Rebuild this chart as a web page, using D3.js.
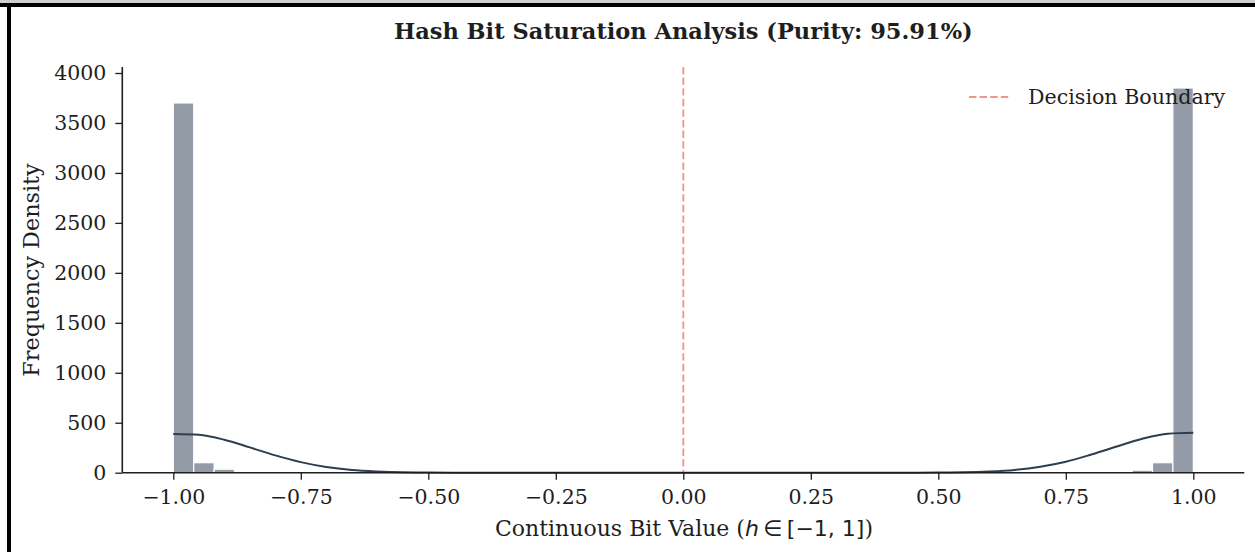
<!DOCTYPE html>
<html lang="en">
<head>
    <meta charset="UTF-8">
    <title>Hash Bit Saturation Analysis</title>
    <style>
        body { margin: 0; background: #fff; }
        svg text { font-family: "DejaVu Serif", serif; fill: #1e1e1e; }
    </style>
</head>
<body>
    <svg id="chart"></svg>

    <script src="https://d3js.org/d3.v7.min.js"></script>
    <script>
        // Histogram: 50 bins of width 0.04 starting at -1
        var binStart = -1, binWidth = 0.04;
        var counts = [
            3700, 100, 35, 0, 0, 0, 0, 0, 0, 0,
            0, 0, 0, 0, 0, 0, 0, 0, 0, 0,
            0, 0, 0, 0, 0, 0, 0, 0, 0, 0,
            0, 0, 0, 0, 0, 0, 0, 0, 0, 0,
            0, 0, 0, 0, 0, 0, 0, 25, 100, 3850
        ];

        // KDE curve
        var kdeX = [-1, -0.95, -0.9, -0.85, -0.8, -0.75, -0.7, -0.65, -0.6, -0.55, -0.5, -0.45, -0.4,
                    0, 0.4, 0.45, 0.5, 0.55, 0.6, 0.65, 0.7, 0.75, 0.8, 0.85, 0.9, 0.95, 1];
        var kdeY = [388, 379, 330, 253, 173, 106, 57, 27, 12, 4, 1.5, 0.4, 0,
                    0, 0, 0.5, 1.5, 4, 12, 28, 60, 110, 182, 262, 340, 390, 399];

        var xTicks = [-1, -0.75, -0.5, -0.25, 0, 0.25, 0.5, 0.75, 1];
        var yTicks = [0, 500, 1000, 1500, 2000, 2500, 3000, 3500, 4000];

        var width = 1255, height = 552;

        var svg = d3.select("#chart")
            .attr("width", width)
            .attr("height", height);

        // frame around the figure
        svg.append("rect").attr("x", 0).attr("y", 0).attr("width", width).attr("height", 3).attr("fill", "#cfcfcf");
        svg.append("rect").attr("x", 0).attr("y", 3).attr("width", width).attr("height", 4).attr("fill", "#000");
        svg.append("rect").attr("x", 7).attr("y", 3).attr("width", 4).attr("height", height).attr("fill", "#000");

        var x = d3.scaleLinear().domain([-1.1, 1.1]).range([122.3, 1244.3]);
        var y = d3.scaleLinear().domain([0, 4060]).range([472.7, 67]);

        // bars
        var bars = counts.map((c, i) => ({ x0: binStart + i * binWidth, x1: binStart + (i + 1) * binWidth, c: c }))
            .filter(d => d.c > 0);

        svg.append("g")
            .selectAll("rect")
            .data(bars)
            .enter()
            .append("rect")
            .attr("x", d => x(d.x0))
            .attr("y", d => y(d.c))
            .attr("width", d => x(d.x1) - x(d.x0))
            .attr("height", d => y(0) - y(d.c))
            .attr("fill", "#939ba6")
            .attr("stroke", "#fff")
            .attr("stroke-width", 1.2);

        // kde line
        var line = d3.line()
            .x((d, i) => x(kdeX[i]))
            .y((d, i) => y(kdeY[i]))
            .curve(d3.curveMonotoneX);

        svg.append("path")
            .datum(kdeY)
            .attr("d", line)
            .attr("fill", "none")
            .attr("stroke", "#2c3e50")
            .attr("stroke-width", 2);

        // decision boundary
        svg.append("line")
            .attr("x1", x(0)).attr("x2", x(0))
            .attr("y1", y.range()[1]).attr("y2", y(0))
            .attr("stroke", "#e74c3c")
            .attr("stroke-opacity", 0.6)
            .attr("stroke-width", 1.8)
            .attr("stroke-dasharray", "7.4,3.2");

        // axes
        var xAxis = svg.append("g")
            .attr("transform", "translate(0," + y(0) + ")")
            .call(d3.axisBottom(x).tickValues(xTicks).tickSize(7).tickPadding(10)
                .tickFormat(d => d3.format(".2f")(d).replace("-", "\u2212")));
        var yAxis = svg.append("g")
            .attr("transform", "translate(" + x.range()[0] + ",0)")
            .call(d3.axisLeft(y).tickValues(yTicks).tickSize(7).tickPadding(9)
                .tickFormat(d3.format("d")));

        [xAxis, yAxis].forEach(g => {
            g.select(".domain").attr("stroke", "#1e1e1e").attr("stroke-width", 1.6);
            g.selectAll(".tick line").attr("stroke", "#1e1e1e").attr("stroke-width", 1.3);
            g.selectAll(".tick text").style("font-family", "DejaVu Serif").style("font-size", "20.5px").attr("fill", "#1e1e1e");
        });
        xAxis.select(".domain").attr("d", "M" + x.range()[0] + ",0H" + x.range()[1]);
        yAxis.select(".domain").attr("d", "M0," + y.range()[0] + "V" + y.range()[1]);

        // title
        svg.append("text")
            .attr("x", 683.3).attr("y", 39)
            .attr("text-anchor", "middle")
            .style("font-size", "22.5px")
            .style("font-weight", "bold")
            .text("Hash Bit Saturation Analysis (Purity: 95.91%)");

        // axis labels
        svg.append("text")
            .attr("transform", "translate(39,270) rotate(-90)")
            .attr("text-anchor", "middle")
            .style("font-size", "22.3px")
            .text("Frequency Density");

        var xl = svg.append("text")
            .attr("x", 684).attr("y", 536)
            .attr("text-anchor", "middle")
            .style("font-size", "22px");
        xl.append("tspan").text("Continuous Bit Value (");
        xl.append("tspan").style("font-family", "DejaVu Sans").style("font-style", "italic").text("h\u2009");
        xl.append("tspan").style("font-family", "DejaVu Sans").text("\u2208\u2009[\u22121, 1]");
        xl.append("tspan").text(")");

        // legend
        svg.append("line")
            .attr("x1", 969).attr("x2", 1010)
            .attr("y1", 97).attr("y2", 97)
            .attr("stroke", "#e74c3c")
            .attr("stroke-opacity", 0.6)
            .attr("stroke-width", 1.8)
            .attr("stroke-dasharray", "7.4,3.2");
        svg.append("text")
            .attr("x", 1028).attr("y", 104)
            .style("font-size", "20.6px")
            .text("Decision Boundary");
    </script>
</body>
</html>
